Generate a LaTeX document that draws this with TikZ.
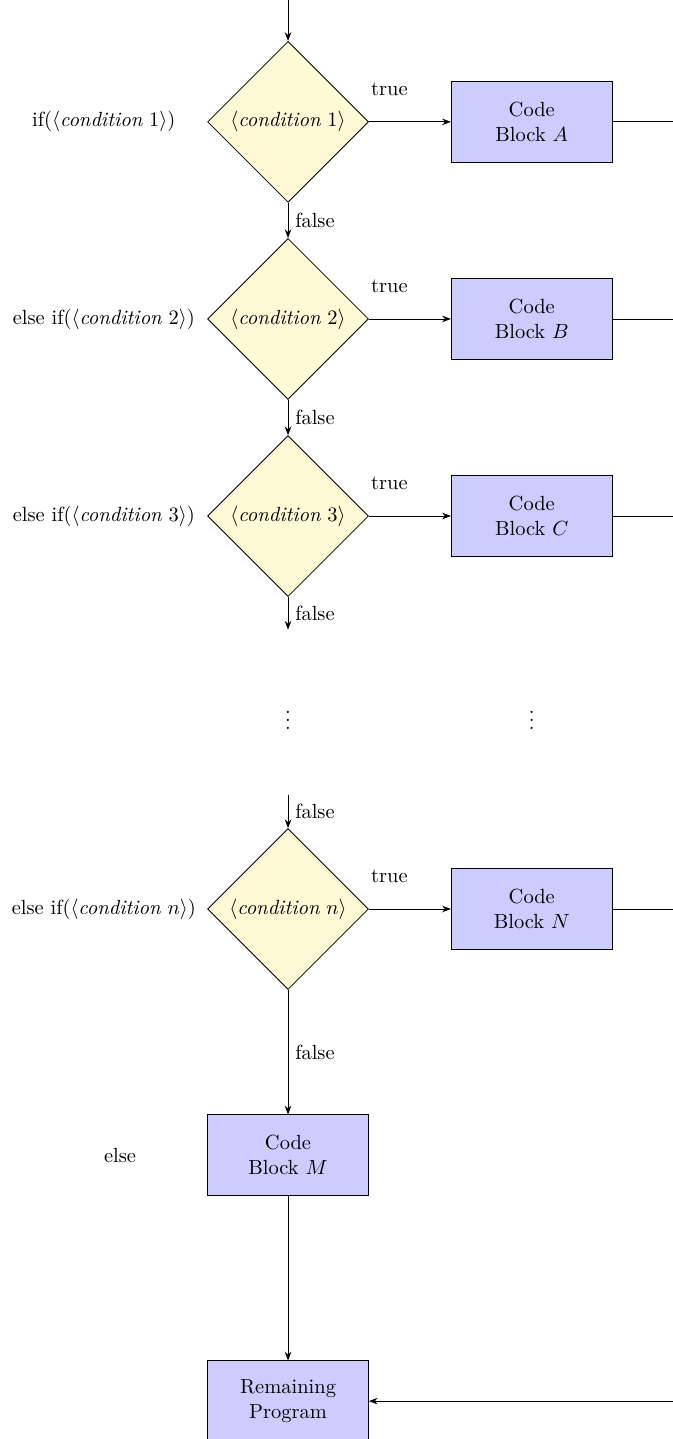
\documentclass[tikz,border=0pt]{standalone}
\usetikzlibrary{arrows.meta,shapes.geometric,calc}

\definecolor{condfill}{RGB}{255,250,214}

\begin{document}
\begin{tikzpicture}[
    decision/.style={diamond, draw, fill=condfill, minimum width=2.76cm, minimum height=2.76cm, inner sep=1pt},
    block/.style={rectangle, draw, fill=blue!20, minimum width=2.76cm, minimum height=1.38cm, align=center},
    flow/.style={-{Stealth[length=1.5mm]}}
]

    % Page frame (right side and bottom are cut off)
    \useasboundingbox (0,0) rectangle (11.54,-24.68);

    % Entry point
    \coordinate (start) at (4.94,0);

    % One row per condition: label, decision, code block
    \foreach \i/\y/\blk/\pre in {1/-2.09/A/if, 2/-5.47/B/else if, 3/-8.85/C/else if, n/-15.59/N/else if} {
        \node[decision] (D\i) at (4.94,\y) {$\langle\textit{condition}\ \i\rangle$};
        \node[block] (B\i) at (9.12,\y) {Code\\Block $\blk$};
        \node (L\i) at (1.78,\y) {\pre($\langle\textit{condition}\ \i\rangle$)};
        \coordinate (R\i) at (11.54,\y);
        \draw[flow] (D\i) -- node[pos=0.25, above=3.2mm] {true} (B\i);
        \draw (B\i) -- (R\i);
    }

    % Gap between condition 3 and condition n
    \coordinate (gapA) at (4.94,-10.80);
    \coordinate (gapB) at (4.94,-13.63);
    \node (dotsL) at (4.94,-12.25) {$\vdots$};
    \node (dotsR) at (9.12,-12.25) {$\vdots$};

    % Else branch and rest of the program
    \node[block] (BM) at (4.94,-19.81) {Code\\Block $M$};
    \node (LM) at (2.06,-19.81) {else};
    \node[block] (rest) at (4.94,-24.03) {Remaining\\Program};
    \coordinate (back) at (11.54,-24.03);

    % False branches
    \draw[flow] (start) -- (D1);
    \draw[flow] (D1) -- node[right] {false} (D2);
    \draw[flow] (D2) -- node[right] {false} (D3);
    \draw[flow] (D3) -- node[right] {false} (gapA);
    \draw[flow] (gapB) -- node[right] {false} (Dn);
    \draw[flow] (Dn) -- node[right] {false} (BM);
    \draw[flow] (BM) -- (rest);
    \draw[flow] (back) -- (rest);

\end{tikzpicture}
\end{document}
